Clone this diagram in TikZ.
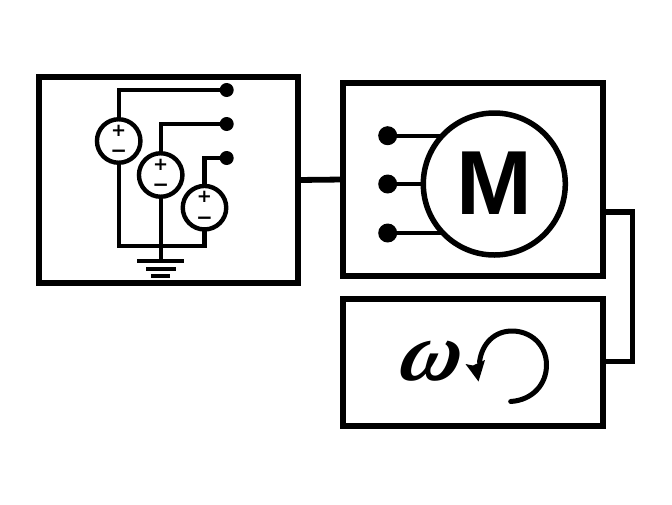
\documentclass[tikz,border=0pt]{standalone}
\usepackage{fontspec}
\setmainfont{Liberation Sans}
\newfontfamily\signfont{DejaVu Sans}
\font\omegaglyph="Liberation Serif/BI:slant=0.25" at 84pt
\begin{document}
\begin{tikzpicture}[x=1pt,y=-1pt,
  blockbox/.style={draw=black,line width=6.3pt,rectangle,inner sep=0pt,outer sep=0pt},
  wire/.style={draw=black,line width=4.4pt,line join=miter},
  link/.style={draw=black,line width=5.8pt,line join=miter},
  source/.style={draw=black,line width=4.4pt,circle,minimum size=43.5pt,inner sep=0pt,outer sep=0pt},
  term/.style={fill=black,circle,minimum size=14pt,inner sep=0pt,outer sep=0pt},
  mterm/.style={fill=black,circle,minimum size=19pt,inner sep=0pt,outer sep=0pt},
  plustext/.style={inner sep=0pt,font=\signfont\bfseries\fontsize{18}{18}\selectfont},
  minustext/.style={inner sep=0pt,font=\signfont\bfseries\fontsize{20}{20}\selectfont},
  groundbar/.style={draw=black,line width=4.4pt}]
\useasboundingbox (0,0) rectangle (672,504);
% blocks
\node[blockbox,minimum width=259pt,minimum height=206pt] (supply) at (168.5,180) {};
\node[blockbox,minimum width=260pt,minimum height=193pt] (motorbox) at (473,179.5) {};
\node[blockbox,minimum width=260pt,minimum height=127pt] (speedbox) at (473,362.5) {};
% connectors between blocks
\draw[link] (supply.east) -- (motorbox.west);
\coordinate (linkA) at (603,212);
\coordinate (linkB) at (603,361.5);
\coordinate (linkX) at (632.5,212);
\draw[link] (linkA) -- (linkX) |- (linkB);
% sources
\node[source] (s1) at (118.7,141) {};
\node[source] (s2) at (160.7,175) {};
\node[source] (s3) at (204.5,207.7) {};
\node[plustext] (p1) at (118.7,130.5) {+};
\node[minustext] (m1) at (118.7,153.5) {−};
\node[plustext] (p2) at (160.7,164.5) {+};
\node[minustext] (m2) at (160.7,188) {−};
\node[plustext] (p3) at (204.5,197) {+};
\node[minustext] (m3) at (204.5,220.5) {−};
% terminals
\node[term] (d1) at (226.7,90) {};
\node[term] (d2) at (226.7,124) {};
\node[term] (d3) at (226.7,158) {};
\draw[wire] (s1.north) |- (d1);
\draw[wire] (s2.north) |- (d2);
\draw[wire] (s3.north) |- (d3);
% ground
\coordinate (g0) at (160.7,246);
\coordinate (g1) at (160.7,261);
\draw[wire] (s1.south) |- (g0);
\draw[wire] (s3.south) |- (g0);
\draw[wire] (s2.south) -- (g1);
\coordinate (b1l) at (137,261);
\coordinate (b1r) at (184,261);
\coordinate (b2l) at (146,268.7);
\coordinate (b2r) at (176,268.7);
\coordinate (b3l) at (151,276);
\coordinate (b3r) at (170,276);
\draw[groundbar] (b1l) -- (b1r);
\draw[groundbar] (b2l) -- (b2r);
\draw[groundbar] (b3l) -- (b3r);
% motor
\node[draw=black,line width=5.5pt,circle,minimum size=142pt,inner sep=0pt,outer sep=0pt] (motor) at (494.3,184) {};
\node[inner sep=0pt,font=\bfseries\fontsize{91}{91}\selectfont] (mlabel) at (494.3,183) {M};
\node[mterm] (md1) at (387.7,135.7) {};
\node[mterm] (md2) at (387.7,184) {};
\node[mterm] (md3) at (387.7,233) {};
\draw[wire] (md1) -- (md1 -| motor.137);
\draw[wire] (md2) -- (motor.west);
\draw[wire] (md3) -- (md3 -| motor.223);
% speed
\node[inner sep=0pt] (omega) at (427,361) {\omegaglyph ω};
\coordinate (arcstart) at (510.7,401.5);
\draw[black,line width=5pt,line cap=round] (arcstart)
  .. controls (533,400) and (546.5,384) .. (546.5,365)
  .. controls (546.5,345) and (531,331) .. (512,331)
  .. controls (495,331) and (482,343) .. (479.5,362);
\fill[black] (465.5,364) -- (473,365.5) -- (485,360) -- (478.5,381.5) -- cycle;
\end{tikzpicture}
\end{document}
